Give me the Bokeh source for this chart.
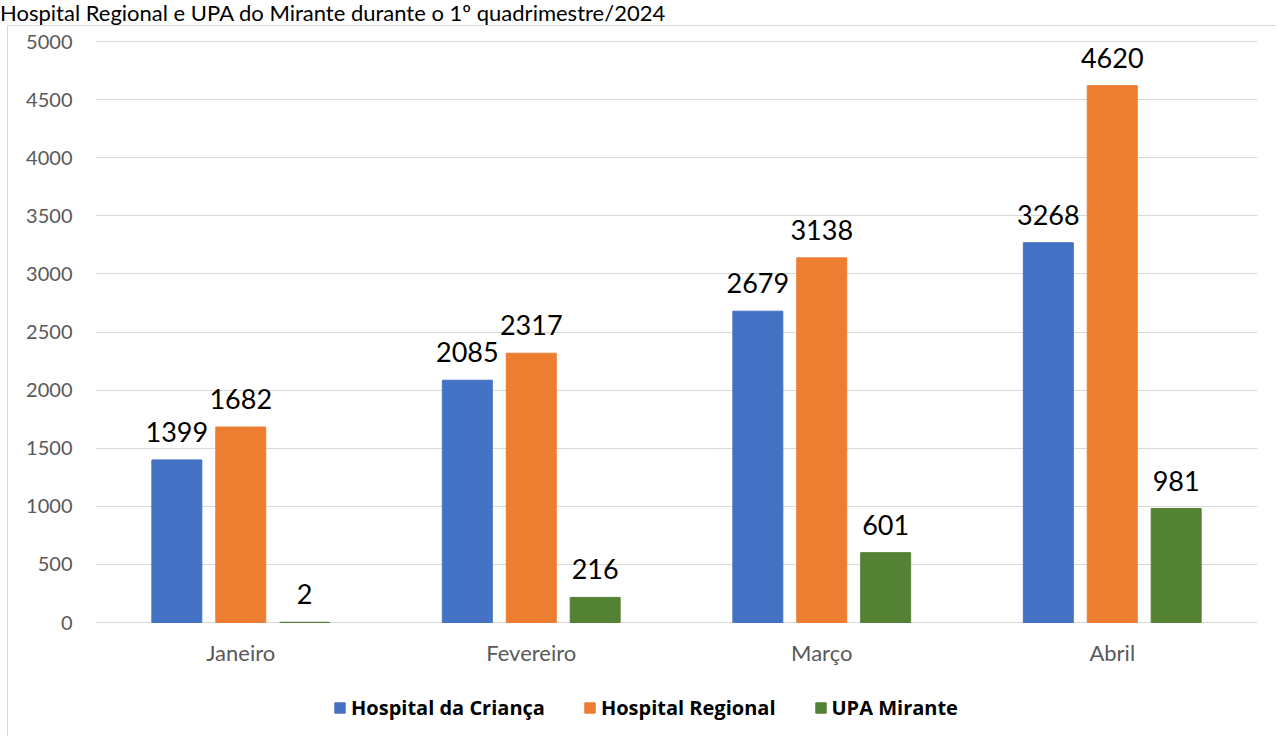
from bokeh.plotting import figure
from bokeh.layouts import column
from bokeh.models import (FactorRange, Range1d, ColumnDataSource, Legend, LegendItem,
                          FixedTicker, Div)
from bokeh.transform import dodge
from bokeh.core.properties import value
from bokeh.embed import file_html
from bokeh.resources import INLINE

# ---- data ----
months = ["Janeiro", "Fevereiro", "Março", "Abril"]
hospital_crianca = [1399, 2085, 2679, 3268]
hospital_regional = [1682, 2317, 3138, 4620]
upa_mirante = [2, 216, 601, 981]
series_names = ["Hospital da Criança", "Hospital Regional", "UPA Mirante"]
colors = ["#4472C4", "#ED7D31", "#548235"]
y_ticks = [0, 500, 1000, 1500, 2000, 2500, 3000, 3500, 4000, 4500, 5000]
title_text = "Hospital Regional e UPA do Mirante durante o 1º quadrimestre/2024"

FONT = "Lato"
DIVH = 25                      # height of the title strip
W, H = 1269, 711               # figure canvas
# layout geometry (page pixels)
ZERO_PX, TOP_TICK_PX, FRAME_TOP_PX = 622, 41, 39
ppu = (ZERO_PX - TOP_TICK_PX) / y_ticks[-1]
frame_bottom_px = DIVH + 1 + H
y_start = -(frame_bottom_px - ZERO_PX) / ppu
y_end = y_ticks[-1] + (TOP_TICK_PX - FRAME_TOP_PX) / ppu

source = ColumnDataSource(data=dict(
    month=months,
    hc=hospital_crianca, hr=hospital_regional, upa=upa_mirante,
    hc_t=[str(v) for v in hospital_crianca],
    hr_t=[str(v) for v in hospital_regional],
    upa_t=[str(v) for v in upa_mirante],
))

p = figure(x_range=FactorRange(*months, range_padding=0), y_range=Range1d(y_start, y_end),
           width=W, height=H, output_backend="svg", toolbar_location=None,
           min_border_left=87, min_border_right=20, min_border_top=FRAME_TOP_PX - DIVH - 1,
           min_border_bottom=0)
p.outline_line_color = None
p.background_fill_color = "white"
p.border_fill_color = "white"
p.margin = (0, 0, 0, 7)
p.styles = {"border-left": "1px solid #d9d9d9", "border-top": "1px solid #d9d9d9"}

offsets = [-0.22, 0.0, 0.22]
fields = ["hc", "hr", "upa"]
renderers = []
for off, f, c in zip(offsets, fields, colors):
    r = p.vbar(x=dodge("month", off, range=p.x_range), top=f, bottom=0, width=0.172,
               source=source, fill_color=c, line_color=c)
    renderers.append(r)
    p.text(x=dodge("month", off, range=p.x_range), y=f, text=f + "_t", source=source,
           text_align="center", text_baseline="alphabetic", y_offset=-28,
           text_font=value(FONT), text_font_size="27px", text_color="#000000")

# axes
p.yaxis.ticker = FixedTicker(ticks=y_ticks)
p.yaxis.axis_line_color = None
p.yaxis.major_tick_line_color = None
p.yaxis.minor_tick_line_color = None
p.yaxis.major_label_standoff = 17
p.yaxis.major_label_text_font = FONT
p.yaxis.major_label_text_font_size = "20px"
p.yaxis.major_label_text_color = "#595959"

p.xaxis.fixed_location = 0
p.xaxis.axis_line_color = None
p.xaxis.major_tick_line_color = None
p.xaxis.major_label_standoff = 10
p.xaxis.major_label_text_font = FONT
p.xaxis.major_label_text_font_size = "22px"
p.xaxis.major_label_text_color = "#595959"

p.xgrid.grid_line_color = None
p.ygrid.grid_line_color = "#d9d9d9"
p.ygrid.grid_line_width = 1.2

# legend
legend = Legend(items=[LegendItem(label=n, renderers=[r]) for n, r in zip(series_names, renderers)],
                orientation="horizontal", location=(238, 16))
legend.label_text_font = "Open Sans"
legend.label_text_font_style = "bold"
legend.label_text_font_size = "20px"
legend.label_text_color = "#000000"
legend.glyph_width = 13
legend.glyph_height = 13
legend.label_height = 13
legend.label_standoff = 5
legend.spacing = 38
legend.padding = 0
legend.margin = 0
legend.border_line_alpha = 0
legend.background_fill_alpha = 0
p.add_layout(legend)

title_div = Div(text=title_text, width=1270, height=DIVH, margin=(0, 0, 0, 0),
                styles={"font-family": "Lato", "font-size": "22px", "color": "#000000",
                        "white-space": "nowrap", "line-height": "25px"})

layout = column(title_div, p, spacing=0)
open("out.html", "w").write(file_html(layout, INLINE))
